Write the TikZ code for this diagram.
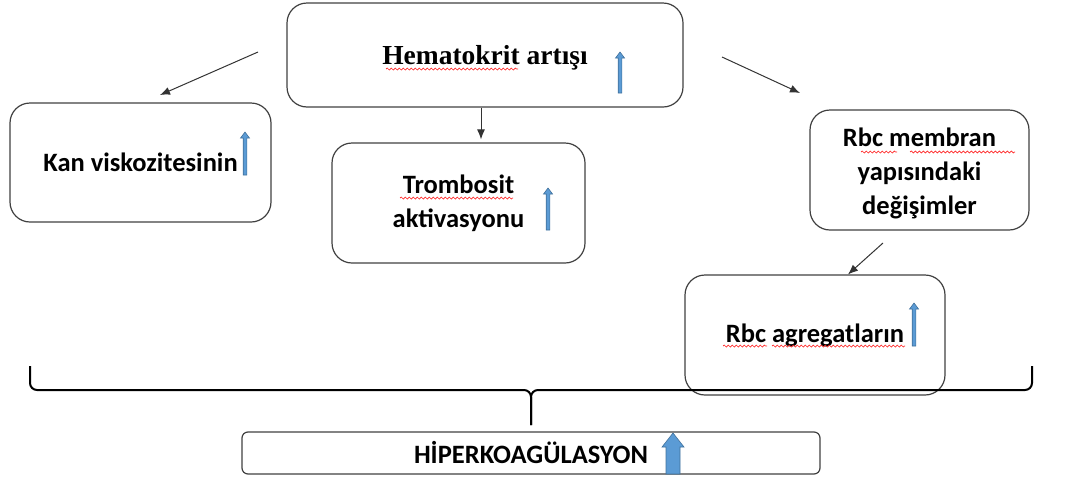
\documentclass[tikz,border=0pt]{standalone}
\usepackage{fontspec}
\setmainfont{Carlito}
\newfontfamily\timesbf{Liberation Serif}
\usetikzlibrary{arrows,arrows.meta,positioning,calc,decorations.pathmorphing}

\definecolor{ofblue}{RGB}{91,155,213}
\definecolor{ofblueline}{RGB}{65,113,156}

\tikzset{
  kutu/.style={draw=black!75, line width=1.2pt, rounded corners=20pt,
    font=\bfseries\fontsize{26.5}{34}\selectfont, align=center, inner sep=0pt},
  ok/.style={-{Latex[length=10pt,width=8pt]}, line width=1pt, black!80},
  mavi/.style={draw=ofblueline, fill=ofblue, line width=0.6pt},
  parantez/.style={line width=2pt, rounded corners=7pt},
  dalga/.style={red!85, line width=0.7pt, decorate,
    decoration={snake, segment length=4pt, amplitude=1pt}}
}

\newcommand{\yukari}[3]{%
  \filldraw[mavi] (#1-1.8,#3) -- (#1-1.8,#2+6) -- (#1-4.5,#2+6) -- (#1,#2)
    -- (#1+4.5,#2+6) -- (#1+1.8,#2+6) -- (#1+1.8,#3) -- cycle;}

\begin{document}
\begin{tikzpicture}[x=1pt,y=-1pt]
\useasboundingbox (0,0) rectangle (1074,480);

\node[kutu, minimum width=396pt, minimum height=104pt] (hct) at (485,55) {};
\node[font=\timesbf\bfseries\fontsize{27.5}{34}\selectfont] (hcttxt) at (485,58)
  {Hematokrit artışı};
\node[kutu, minimum width=261pt, minimum height=119pt] (kan) at (140.5,162.5)
  {Kan viskozitesinin};
\node[kutu, minimum width=253pt, minimum height=120pt] (tromb) at (458.5,203)
  {Trombosit\\aktivasyonu};
\node[kutu, minimum width=219pt, minimum height=120pt] (rbcm) at (919.5,170) {};
\node[kutu, draw=none, minimum width=0pt, minimum height=0pt] (rbcmtxt) at (919.5,173)
  {Rbc membran\\yapısındaki\\değişimler};
\node[kutu, minimum width=260pt, minimum height=120pt] (rbca) at (815,335)
  {Rbc agregatların};
\node[kutu, rounded corners=6pt, minimum width=578pt, minimum height=42pt] (hiper) at (531,453)
  {HİPERKOAGÜLASYON};

\coordinate (hctsol) at (258,52);
\coordinate (kanust) at (160,95);
\coordinate (hctsag) at (722,57);
\coordinate (rbcmust) at (800,93);
\coordinate (rbcmalt) at (883,243);

\draw[ok] (hctsol) -- (kanust);
\draw[ok, shorten >=3pt] ([xshift=-4pt]hct.south) -- ([xshift=-4pt]hct.south |- tromb.north);
\draw[ok] (hctsag) -- (rbcmust);
\draw[ok] (rbcmalt) -- ([xshift=33pt]rbca.north);

% alttaki parantez
\draw[parantez] (30,366) -- (30,390) -- (531,390) -- (531,425);
\draw[parantez] (1032,366) -- (1032,390) -- (531,390) -- (531,425);

% imla dalgalari
\draw[dalga] (386,69) -- (518,69);
\draw[dalga] (400,198) -- (513,198);
\draw[dalga] (861,152) -- (897,152);
\draw[dalga] (910,152) -- (1015,152);
\draw[dalga] (723,346) -- (767,346);
\draw[dalga] (772,346) -- (905,346);

\yukari{620}{52}{93}
\yukari{245}{132}{175}
\yukari{548}{188}{230}
\yukari{914}{303}{346}
\filldraw[mavi] (666,474) -- (666,447) -- (662,447) -- (673,433) -- (684,447)
  -- (680,447) -- (680,474) -- cycle;
\end{tikzpicture}
\end{document}
